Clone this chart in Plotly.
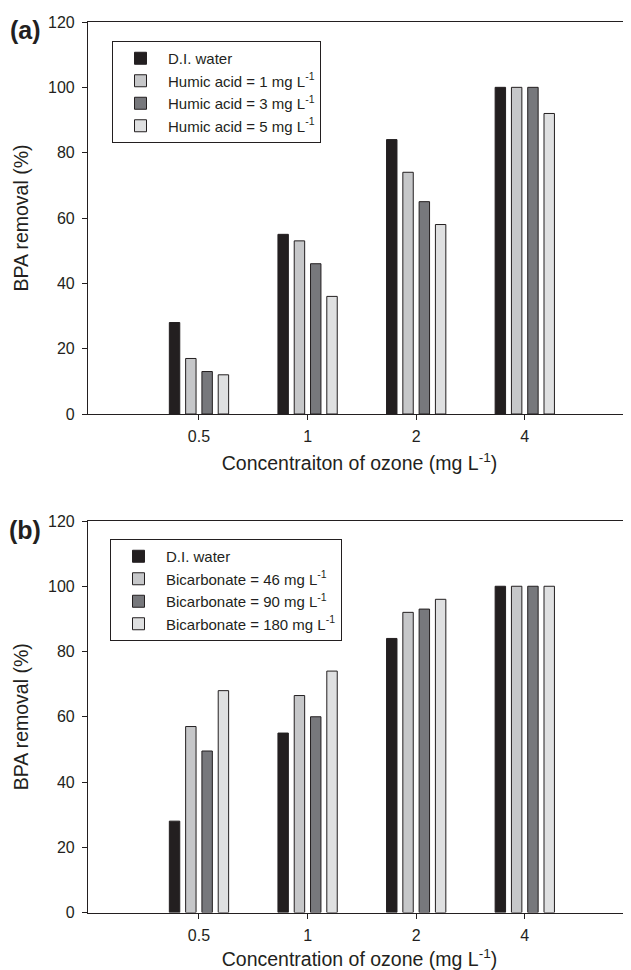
import plotly.graph_objects as go

# ---------------- data ----------------
ozone_labels = ["0.5", "1", "2", "4"]

# Panel (a): humic acid
di_water_a = [28, 55, 84, 100]
humic_1 = [17, 53, 74, 100]
humic_3 = [13, 46, 65, 100]
humic_5 = [12, 36, 58, 92]

# Panel (b): bicarbonate
di_water_b = [28, 55, 84, 100]
bicarb_46 = [57, 66.5, 92, 100]
bicarb_90 = [49.5, 60, 93, 100]
bicarb_180 = [68, 74, 96, 100]

names_a = ["D.I. water", "Humic acid = 1 mg L<sup>-1</sup>",
           "Humic acid = 3 mg L<sup>-1</sup>", "Humic acid = 5 mg L<sup>-1</sup>"]
names_b = ["D.I. water", "Bicarbonate = 46 mg L<sup>-1</sup>",
           "Bicarbonate = 90 mg L<sup>-1</sup>", "Bicarbonate = 180 mg L<sup>-1</sup>"]

colors = ["#231f20", "#c6c7c9", "#77787c", "#dfe0e1"]
outline = "#231f20"
FONT = "Arial, 'Liberation Sans', Helvetica, sans-serif"
TXT = "#231f20"

# the page body adds an 8px offset; lay out in screen pixels minus that offset
OFF = 8
W, H = 631 - OFF, 970 - OFF
L_M = 88 - OFF
PW = W - L_M


def px_x(sx):
    return (sx - OFF - L_M) / PW


def px_y(sy):
    return 1 - (sy - OFF) / H


fig = go.Figure()

series_a = [di_water_a, humic_1, humic_3, humic_5]
series_b = [di_water_b, bicarb_46, bicarb_90, bicarb_180]

for name, vals, c in zip(names_a, series_a, colors):
    fig.add_trace(go.Bar(x=ozone_labels, y=vals, name=name, xaxis="x", yaxis="y",
                         marker=dict(color=c, line=dict(color=outline, width=1)),
                         legend="legend"))
for name, vals, c in zip(names_b, series_b, colors):
    fig.add_trace(go.Bar(x=ozone_labels, y=vals, name=name, xaxis="x2", yaxis="y2",
                         marker=dict(color=c, line=dict(color=outline, width=1)),
                         legend="legend2"))

xcommon = dict(type="category", range=[-1.022, 3.978], showline=True, mirror=True,
               linecolor=TXT, linewidth=1.2, ticks="outside", ticklen=5, tickcolor=TXT,
               tickwidth=1, showgrid=False, zeroline=False, automargin=False,
               tickfont=dict(size=16, color=TXT, family=FONT),
               ticklabelstandoff=3)
ycommon = dict(range=[0, 120], dtick=20, showline=True, mirror=False, linecolor=TXT,
               linewidth=1.2, ticks="outside", ticklen=5, tickcolor=TXT, tickwidth=1,
               showgrid=False, zeroline=False, automargin=False,
               tickfont=dict(size=16, color=TXT, family=FONT), ticklabelstandoff=4)

title_font = dict(size=19.5, color=TXT, family=FONT)

fig.update_layout(
    width=W, height=H,
    margin=dict(l=L_M, r=0, t=0, b=0, autoexpand=False),
    paper_bgcolor="white", plot_bgcolor="white",
    font=dict(family=FONT, color=TXT),
    barmode="group", bargap=0.4, bargroupgap=0.36,
    showlegend=True,
    xaxis=dict(domain=[0, 1], anchor="y",
               title=dict(text="Concentraiton of ozone (mg L<sup>-1</sup>)",
                          font=title_font, standoff=12),
               **xcommon),
    yaxis=dict(domain=[px_y(414), px_y(22)], anchor="x",
               title=dict(text="BPA removal (%)", font=title_font, standoff=14),
               **ycommon),
    xaxis2=dict(domain=[0, 1], anchor="y2",
                title=dict(text="Concentration of ozone (mg L<sup>-1</sup>)",
                           font=title_font, standoff=12),
                **xcommon),
    yaxis2=dict(domain=[px_y(912.5), px_y(521)], anchor="x2",
                title=dict(text="BPA removal (%)", font=title_font, standoff=14),
                **ycommon),
    legend=dict(x=px_x(112), y=px_y(41), xanchor="left", yanchor="top",
                bordercolor=TXT, borderwidth=1, bgcolor="white",
                font=dict(size=15, color=TXT, family=FONT), itemwidth=45,
                tracegroupgap=0),
    legend2=dict(x=px_x(110), y=px_y(539), xanchor="left", yanchor="top",
                 bordercolor=TXT, borderwidth=1, bgcolor="white",
                 font=dict(size=15, color=TXT, family=FONT), itemwidth=45,
                 tracegroupgap=0),
    annotations=[
        dict(text="<b>(a)</b>", xref="paper", yref="paper",
             x=px_x(25), y=px_y(30), xanchor="center", yanchor="middle",
             showarrow=False, font=dict(size=25, color=TXT, family=FONT)),
        dict(text="<b>(b)</b>", xref="paper", yref="paper",
             x=px_x(25), y=px_y(530), xanchor="center", yanchor="middle",
             showarrow=False, font=dict(size=25, color=TXT, family=FONT)),
    ],
)

fig.write_html("out.html")
